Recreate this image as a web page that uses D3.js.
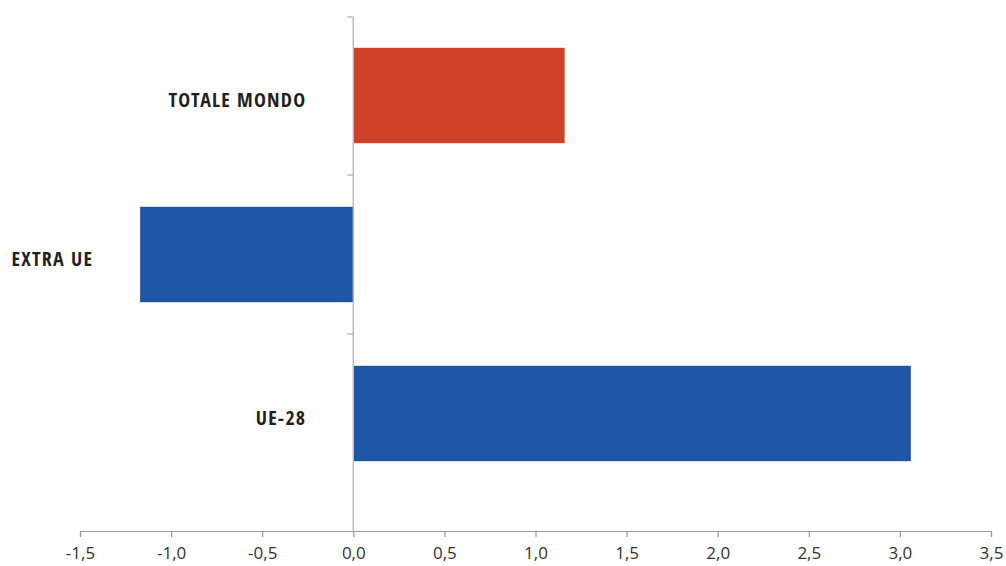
<!DOCTYPE html>
<html>
<head>
<meta charset="utf-8">
<script src="https://cdn.jsdelivr.net/npm/d3@7"></script>
<style>
  html, body { margin: 0; padding: 0; background: #fff; }
  svg { display: block; }
</style>
</head>
<body>
<svg id="chart" width="1006" height="566"></svg>
<script>
// Categories, values and colours of the bars
const categories = ["TOTALE MONDO", "EXTRA UE", "UE-28"];
const values = [1.16, -1.17, 3.06];
const barColors = ["#cf4028", "#1f55a5", "#1f55a5"];
const xTicks = [-1.5, -1.0, -0.5, 0.0, 0.5, 1.0, 1.5, 2.0, 2.5, 3.0, 3.5];

const svg = d3.select("#chart");

const x = d3.scaleLinear().domain([-1.5, 3.5]).range([80, 991]);
const y = d3.scaleBand().domain(categories).range([16, 493])
  .paddingInner(0.4).paddingOuter(0.2);
const axisY = 531;

const fmt = v => d3.format(".1f")(v).replace("−", "-").replace(".", ",");

// Bars
svg.append("g").selectAll("rect")
  .data(categories)
  .join("rect")
  .attr("x", (d, i) => x(Math.min(0, values[i])))
  .attr("y", d => y(d))
  .attr("width", (d, i) => Math.abs(x(values[i]) - x(0)))
  .attr("height", y.bandwidth())
  .attr("fill", (d, i) => barColors[i]);

// Horizontal value axis
const xAxis = d3.axisBottom(x).tickValues(xTicks).tickFormat(fmt)
  .tickSize(6).tickPadding(10);
const gx = svg.append("g").attr("transform", `translate(0,${axisY})`).call(xAxis);
gx.select(".domain").attr("stroke", "#9a9a9a").attr("stroke-width", 1.2);
gx.selectAll(".tick line").attr("stroke", "#9a9a9a").attr("stroke-width", 1.2);
gx.selectAll(".tick text")
  .attr("fill", "#333")
  .style("font-family", "'Open Sans', 'Noto Sans', sans-serif")
  .style("font-size", "17px");

// Vertical category axis at zero
const gy = svg.append("g");
gy.append("line")
  .attr("x1", x(0)).attr("x2", x(0))
  .attr("y1", 17).attr("y2", axisY)
  .attr("stroke", "#b8b8b8").attr("stroke-width", 1.4);
const boundaries = categories.map(c => y(c) - y.step() * y.paddingInner() / 2);
boundaries[0] = 17;
gy.selectAll("line.tk")
  .data(boundaries)
  .join("line")
  .attr("class", "tk")
  .attr("x1", x(0) - 6).attr("x2", x(0))
  .attr("y1", d => d).attr("y2", d => d)
  .attr("stroke", "#b8b8b8").attr("stroke-width", 1.4);

// Category labels, placed left of each bar's base
svg.append("g").selectAll("text")
  .data(categories)
  .join("text")
  .attr("x", (d, i) => x(Math.min(0, values[i])) - 47)
  .attr("y", d => y(d) + y.bandwidth() / 2 + 6)
  .attr("text-anchor", "end")
  .attr("dominant-baseline", "middle")
  .attr("fill", "#231f20")
  .style("font-family", "'Liberation Sans Narrow', 'Open Sans Condensed', 'Roboto Condensed', sans-serif")
  .style("font-weight", "bold")
  .style("font-size", "20px")
  .style("letter-spacing", "1.2px")
  .text(d => d);
</script>
</body>
</html>
